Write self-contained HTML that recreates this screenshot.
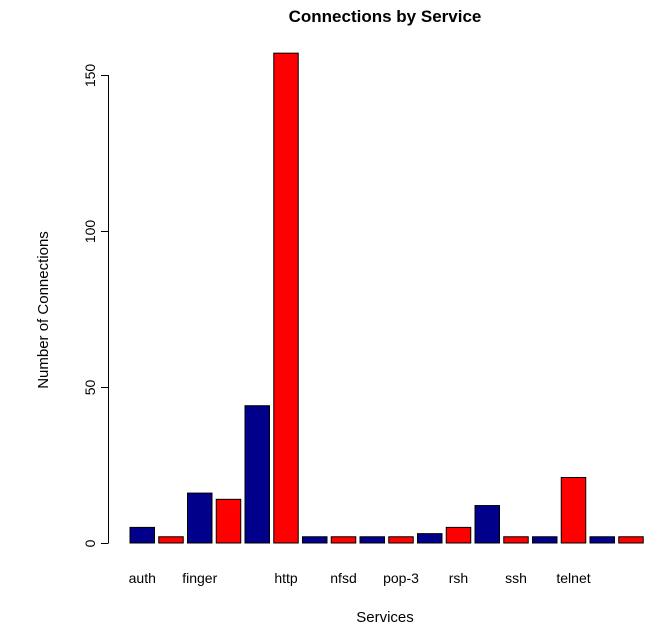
<!DOCTYPE html>
<html><head><meta charset="utf-8"><style>
body{margin:0;background:#fff}
svg{display:block;font-family:"Liberation Sans",Arial,sans-serif}
</style></head><body>
<svg id="chart" width="666" height="633">
<text x="385" y="22" text-anchor="middle" font-size="17" font-weight="bold">Connections by Service</text>
<text x="385" y="622" text-anchor="middle" font-size="15">Services</text>
<text transform="translate(48,310) rotate(-90)" text-anchor="middle" font-size="15">Number of Connections</text>
<g id="bars"></g><g id="yaxis"></g><g id="xlabels"></g>
</svg>
<script>
const values = [5,2,16,14,44,157,2,2,2,2,3,5,12,2,2,21,2,2];
const labels = ["auth","","finger","","","http","","nfsd","","pop-3","","rsh","","ssh","","telnet","",""];
const colors = ["#00008b","#ff0000"];
const yTicks = [0,50,100,150];
const NS="http://www.w3.org/2000/svg";
const y0=543, pxPer=(543-75)/150;
const yScale=v=>y0-v*pxPer;
const xLeft=i=>130+i*28.75, bw=24.5;
const bars=document.getElementById('bars');
values.forEach((v,i)=>{
  const r=document.createElementNS(NS,'rect');
  r.setAttribute('x',xLeft(i));r.setAttribute('y',yScale(v));
  r.setAttribute('width',bw);r.setAttribute('height',y0-yScale(v));
  r.setAttribute('fill',colors[i%2]);r.setAttribute('stroke','#000');r.setAttribute('stroke-width','1');
  
  
  bars.appendChild(r);
});
const xl=document.getElementById('xlabels');
labels.forEach((l,i)=>{
  if(!l)return;
  const t=document.createElementNS(NS,'text');
  t.setAttribute('x',xLeft(i)+bw/2);t.setAttribute('y',583);
  t.setAttribute('text-anchor','middle');t.setAttribute('font-size','14');
  t.textContent=l;
  
  
  xl.appendChild(t);
});
const ya=document.getElementById('yaxis');
const ax=document.createElementNS(NS,'line');
ax.setAttribute('x1',108.5);ax.setAttribute('x2',108.5);
ax.setAttribute('y1',yScale(yTicks[0]));ax.setAttribute('y2',yScale(yTicks[yTicks.length-1]));
ax.setAttribute('stroke','#000');


ya.appendChild(ax);
yTicks.forEach(v=>{
  const y=Math.round(yScale(v))+0.5;
  const tk=document.createElementNS(NS,'line');
  tk.setAttribute('x1',101);tk.setAttribute('x2',108.5);tk.setAttribute('y1',y);tk.setAttribute('y2',y);
  tk.setAttribute('stroke','#000');
  
  
  ya.appendChild(tk);
  const t=document.createElementNS(NS,'text');
  t.setAttribute('transform',`translate(95,${y}) rotate(-90)`);
  t.setAttribute('text-anchor','middle');t.setAttribute('font-size','14');
  t.textContent=v;
  
  
  ya.appendChild(t);
});
</script>
</body></html>
